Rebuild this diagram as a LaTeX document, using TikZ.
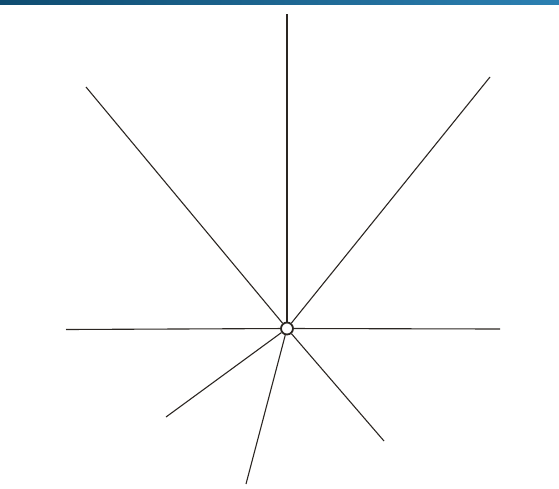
\documentclass[tikz,border=0pt]{standalone}
\usepackage{xcolor}
\definecolor{cBarL}{HTML}{0F4C70}
\definecolor{cBarR}{HTML}{2C80B2}
\definecolor{cLine}{HTML}{2B2622}
\usetikzlibrary{positioning}
\tikzset{
  node-hub/.style={draw=cLine,line width=1.8pt,circle,fill=white,inner sep=0pt,minimum size=12pt},
  ray/.style={draw=cLine,line width=1.1pt},
}
\begin{document}
\begin{tikzpicture}[x=1pt,y=-1pt]
  \useasboundingbox (0,0) rectangle (559,488);
  \shade[left color=cBarL,right color=cBarR] (0,0) rectangle (559,4);
  \node[node-hub] (hub) at (287,328.5) {};
  \foreach \name/\x/\y in {up/287/14, ul/86/87, ur/490/77, le/66/329.5,
      ri/500/329, ll/166/417, dn/246/484, lr/384/441} {
    \coordinate (\name) at (\x,\y);
    \draw[ray] (hub) -- (\name);
  }
\end{tikzpicture}
\end{document}
